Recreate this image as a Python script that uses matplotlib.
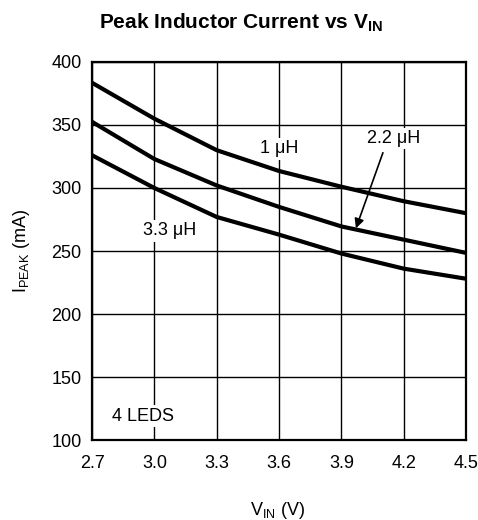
import matplotlib
matplotlib.use("Agg")
import matplotlib.pyplot as plt

plt.rcParams['font.family'] = ['Liberation Sans', 'DejaVu Sans']
plt.rcParams['mathtext.fontset'] = 'custom'
plt.rcParams['mathtext.rm'] = 'Liberation Sans'
plt.rcParams['mathtext.it'] = 'Liberation Sans:italic'
plt.rcParams['mathtext.bf'] = 'Liberation Sans:bold'

vin = [2.7, 3.0, 3.3, 3.6, 3.9, 4.2, 4.5]
i_1uh = [383.5, 355, 330, 313.5, 301, 289.5, 280]
i_22uh = [352.5, 323, 302, 285, 269.5, 259, 248.5]
i_33uh = [326, 300, 277, 263, 248, 236, 228]

xticks = [2.7, 3.0, 3.3, 3.6, 3.9, 4.2, 4.5]
xticklabels = ['2.7', '3.0', '3.3', '3.6', '3.9', '4.2', '4.5']
yticks = [100, 150, 200, 250, 300, 350, 400]

fig = plt.figure(figsize=(4.78, 5.20), dpi=100)
ax = fig.add_axes([0.1925, 0.1538, 0.7825, 0.727])

for ys in (i_1uh, i_22uh, i_33uh):
    ax.plot(vin, ys, color='black', lw=3.0, solid_capstyle='butt', zorder=3)

ax.set_xlim(2.7, 4.5)
ax.set_ylim(100, 400)
ax.set_xticks(xticks)
ax.set_xticklabels(xticklabels)
ax.set_yticks(yticks)
ax.grid(True, color='black', lw=1.0)
ax.set_axisbelow(True)
for s in ax.spines.values():
    s.set_linewidth(1.6)
ax.tick_params(length=0, labelsize=13)
ax.tick_params(axis='x', pad=11)
ax.tick_params(axis='y', pad=7.5)

fs = 13
bb = dict(facecolor='white', edgecolor='none', pad=1.5)
ax.text(3.6, 331, '1 μH', fontsize=fs, ha='center', va='center', bbox=bb, zorder=4)
ax.text(4.15, 339.5, '2.2 μH', fontsize=fs, ha='center', va='center', bbox=bb, zorder=4)
ax.text(3.075, 266, '3.3 μH', fontsize=fs, ha='center', va='center', bbox=bb, zorder=4)
ax.text(2.945, 119, '4 LEDS', fontsize=fs, ha='center', va='center', bbox=bb, zorder=4)
ax.annotate('', xy=(3.97, 268), xytext=(4.10, 328),
            arrowprops=dict(arrowstyle='-|>', color='black', lw=1.2,
                            mutation_scale=14, shrinkA=0, shrinkB=0), zorder=5)

fig.text(0.505, 0.944, r'Peak Inductor Current vs V$_{\mathbf{IN}}$', fontsize=15,
         fontweight='bold', ha='center', va='baseline')
fig.text(0.046, 0.518, r'I$_{\mathrm{PEAK}}$ (mA)', fontsize=13, rotation=90,
         ha='center', va='center')
fig.text(0.58, 0.01, r'V$_{\mathrm{IN}}$ (V)', fontsize=13, ha='center', va='baseline')

fig.savefig('out.png', dpi=100)
